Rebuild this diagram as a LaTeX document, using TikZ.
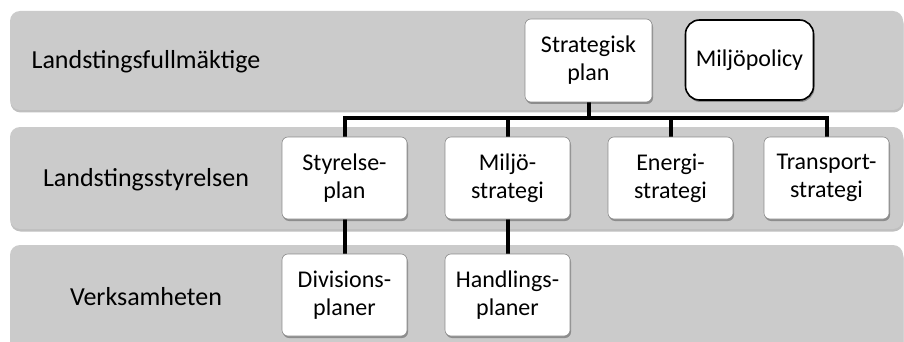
\documentclass[tikz,border=0pt]{standalone}
\usepackage{fontspec}
\setmainfont{Carlito}
\usetikzlibrary{shadows}
\definecolor{bandgray}{RGB}{203,203,203}
\definecolor{boxborder}{RGB}{140,140,140}
\begin{document}
\begin{tikzpicture}[x=1pt,y=-1pt,
  band/.style={fill=bandgray, rounded corners=10pt,
    drop shadow={shadow xshift=0.5pt, shadow yshift=-2.5pt, fill=black, opacity=0.25}},
  box/.style={draw=boxborder, line width=0.6pt, fill=white, rounded corners=6pt,
    minimum width=125pt, minimum height=82pt, align=center, inner sep=0pt,
    font=\fontsize{24}{28}\selectfont,
    drop shadow={shadow xshift=1pt, shadow yshift=-2pt, fill=black, opacity=0.3}},
  policy/.style={box, draw=black, line width=1.6pt, rounded corners=14pt,
    minimum width=128pt, minimum height=80pt},
  lbl/.style={font=\fontsize{26}{30}\selectfont, inner sep=0pt},
  link/.style={line width=4pt, line join=miter}]
\useasboundingbox (0,0) rectangle (904,342);
\clip (0,0) rectangle (904,342);
\fill[white] (0,0) rectangle (904,342);
% bands
\path[band] (10,11) rectangle (903,110);
\path[band] (10,127) rectangle (903,229);
\path[band] (10,245) rectangle (903,360);
% labels
\node[lbl] (l1) at (146,62) {Landstingsfullmäktige};
\node[lbl] (l2) at (146,180) {Landstingsstyrelsen};
\node[lbl] (l3) at (146,297) {Verksamheten};
% coordinates of boxes
\coordinate (bus) at (588.5,118);
% connectors (drawn first, covered by boxes)
\path (588.5,60.5) coordinate (spc) (344.5,178) coordinate (styc) (507.5,178) coordinate (milc)
      (670.5,178) coordinate (enec) (826.5,178) coordinate (trac)
      (344.5,295) coordinate (divc) (507.5,295) coordinate (hanc);
\draw[link] (spc) -- (spc |- bus);
\draw[link] (styc) -- (styc |- bus) -- (trac |- bus) -- (trac);
\draw[link] (milc) -- (milc |- bus);
\draw[link] (enec) -- (enec |- bus);
\draw[link] (styc) -- (divc);
\draw[link] (milc) -- (hanc);
% boxes
\node[box, minimum width=127pt, minimum height=83pt] (sp) at (spc) {Strategisk\\plan};
\node[policy] (mp) at (749.5,60) {Miljöpolicy};
\node[box] (sty) at (styc) {Styrelse-\\plan};
\node[box] (mil) at (milc) {Miljö-\\strategi};
\node[box] (ene) at (enec) {Energi-\\strategi};
\node[box] (tra) at (trac) {Transport-\\strategi};
\node[box] (div) at (divc) {Divisions-\\planer};
\node[box] (han) at (hanc) {Handlings-\\planer};
\end{tikzpicture}
\end{document}
